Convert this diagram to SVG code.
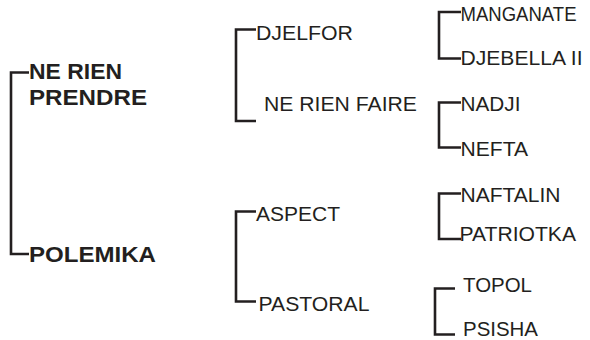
<svg xmlns="http://www.w3.org/2000/svg" width="590" height="340" viewBox="0 0 590 340">
<style>
  .bg { fill: #ffffff; }
  .conn { fill: none; stroke: #231f20; stroke-width: 2.6; stroke-linejoin: miter; stroke-linecap: butt; }
  .lbl { font-family: "Liberation Sans", Arial, Helvetica, sans-serif; font-size: 20px; fill: #231f20; }
  .root { font-family: "Liberation Sans", Arial, Helvetica, sans-serif; font-size: 22px; font-weight: bold; fill: #231f20; }
</style>
<rect class="bg" x="0" y="0" width="590" height="340"/>
<g id="connectors">
  <path class="conn" d="M29,72.5 H11 V254 H29"/>
  <path class="conn" d="M256,29.5 H236 V121 H256"/>
  <path class="conn" d="M256,211.5 H236 V301.5 H256"/>
  <path class="conn" d="M461,12 H439 V58.5 H461"/>
  <path class="conn" d="M461,102.5 H439 V147.5 H461"/>
  <path class="conn" d="M461,193.5 H439 V239 H461"/>
  <path class="conn" d="M455,288.5 H435 V334.5 H455"/>
</g>
<g id="node-ne-rien-prendre">
  <text class="root" x="29" y="78.5" textLength="93" lengthAdjust="spacingAndGlyphs">NE RIEN</text>
  <text class="root" x="29" y="105" textLength="118" lengthAdjust="spacingAndGlyphs">PRENDRE</text>
</g>
<g id="node-polemika">
  <text class="root" x="29" y="261.5" textLength="127" lengthAdjust="spacingAndGlyphs">POLEMIKA</text>
</g>
<g id="node-djelfor">
  <text class="lbl" x="256" y="39.5" textLength="97" lengthAdjust="spacingAndGlyphs">DJELFOR</text>
</g>
<g id="node-ne-rien-faire">
  <text class="lbl" x="264" y="111" textLength="153" lengthAdjust="spacingAndGlyphs">NE RIEN FAIRE</text>
</g>
<g id="node-aspect">
  <text class="lbl" x="256" y="220.5" textLength="84" lengthAdjust="spacingAndGlyphs">ASPECT</text>
</g>
<g id="node-pastoral">
  <text class="lbl" x="258.5" y="310.5" textLength="111" lengthAdjust="spacingAndGlyphs">PASTORAL</text>
</g>
<g id="node-manganate">
  <text class="lbl" x="460.5" y="20.5" textLength="116" lengthAdjust="spacingAndGlyphs">MANGANATE</text>
</g>
<g id="node-djebella-ii">
  <text class="lbl" x="460.5" y="65" textLength="122" lengthAdjust="spacingAndGlyphs">DJEBELLA II</text>
</g>
<g id="node-nadji">
  <text class="lbl" x="460.5" y="111" textLength="60" lengthAdjust="spacingAndGlyphs">NADJI</text>
</g>
<g id="node-nefta">
  <text class="lbl" x="460.5" y="155.5" textLength="67.5" lengthAdjust="spacingAndGlyphs">NEFTA</text>
</g>
<g id="node-naftalin">
  <text class="lbl" x="460.5" y="201.5" textLength="100" lengthAdjust="spacingAndGlyphs">NAFTALIN</text>
</g>
<g id="node-patriotka">
  <text class="lbl" x="459.5" y="241" textLength="116.5" lengthAdjust="spacingAndGlyphs">PATRIOTKA</text>
</g>
<g id="node-topol">
  <text class="lbl" x="463" y="291.5" textLength="69" lengthAdjust="spacingAndGlyphs">TOPOL</text>
</g>
<g id="node-psisha">
  <text class="lbl" x="463" y="336" textLength="75" lengthAdjust="spacingAndGlyphs">PSISHA</text>
</g>
</svg>
